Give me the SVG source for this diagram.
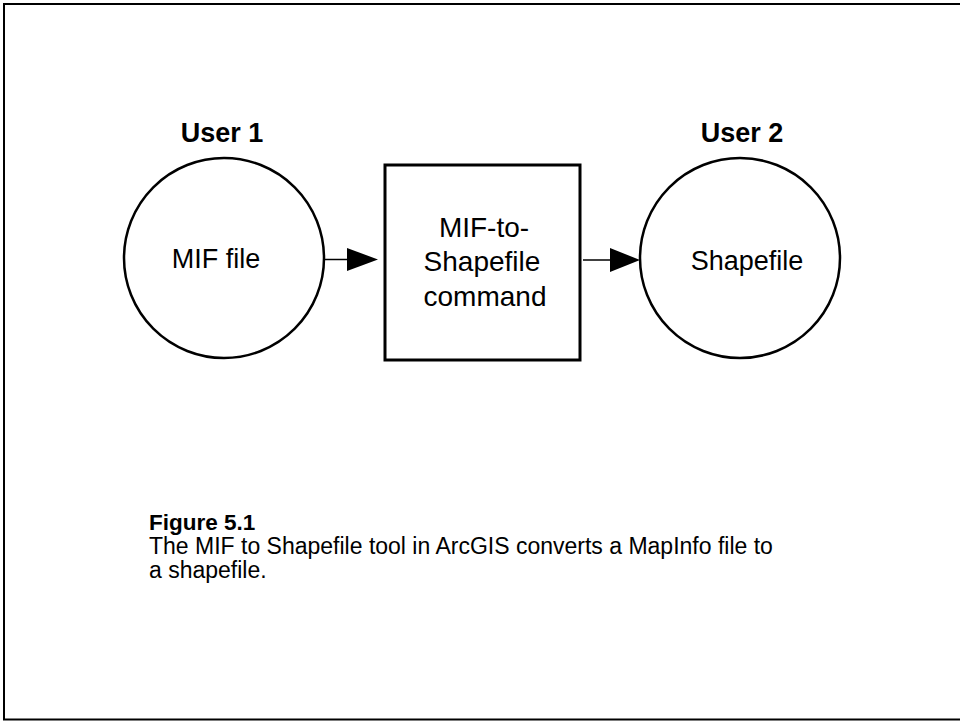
<svg xmlns="http://www.w3.org/2000/svg" width="960" height="721" viewBox="0 0 960 721">
<style>
.frame{fill:none;stroke:#000;stroke-width:2}
.node{fill:#fff;stroke:#000;stroke-width:2.5}
.box{fill:#fff;stroke:#000;stroke-width:3}
.lbl{font-family:"Liberation Sans",Arial,sans-serif;font-size:27px;fill:#000;text-anchor:middle}
.hdr{font-family:"Liberation Sans",Arial,sans-serif;font-size:27px;font-weight:bold;fill:#000;text-anchor:middle}
.cap{font-family:"Liberation Sans",Arial,sans-serif;font-size:23px;fill:#000}
.capb{font-family:"Liberation Sans",Arial,sans-serif;font-size:22.5px;font-weight:bold;fill:#000}
.conn{stroke:#000;stroke-width:1.5;fill:none}
.head{fill:#000}
</style>
<rect width="960" height="721" fill="#fff"/>
<rect class="frame" x="4" y="4" width="1000" height="715.5"/>
<g id="user1">
<text class="hdr" x="222" y="142">User 1</text>
<circle class="node" cx="224" cy="258" r="100"/>
<text class="lbl" x="216" y="268">MIF file</text>
</g>
<g id="command">
<rect class="box" x="385" y="165" width="195" height="195"/>
<text class="lbl" x="484" y="237" font-size="28" style="font-size:28px">MIF-to-</text>
<text class="lbl" x="482" y="271" style="font-size:28px">Shapefile</text>
<text class="lbl" x="485" y="306" style="font-size:28px">command</text>
</g>
<g id="user2">
<text class="hdr" x="742" y="142">User 2</text>
<circle class="node" cx="740" cy="258" r="100"/>
<text class="lbl" x="747" y="270">Shapefile</text>
</g>
<g id="connectors">
<line class="conn" x1="325" y1="259.5" x2="348" y2="259.5"/>
<polygon class="head" points="347,248 378,259.5 347,271"/>
<line class="conn" x1="583" y1="260" x2="611" y2="260"/>
<polygon class="head" points="610,248 640,260 610,272"/>
</g>
<g id="caption">
<text class="capb" x="149" y="530">Figure 5.1</text>
<text class="cap" x="149" y="554">The MIF to Shapefile tool in ArcGIS converts a MapInfo file to</text>
<text class="cap" x="149" y="578">a shapefile.</text>
</g>
</svg>
